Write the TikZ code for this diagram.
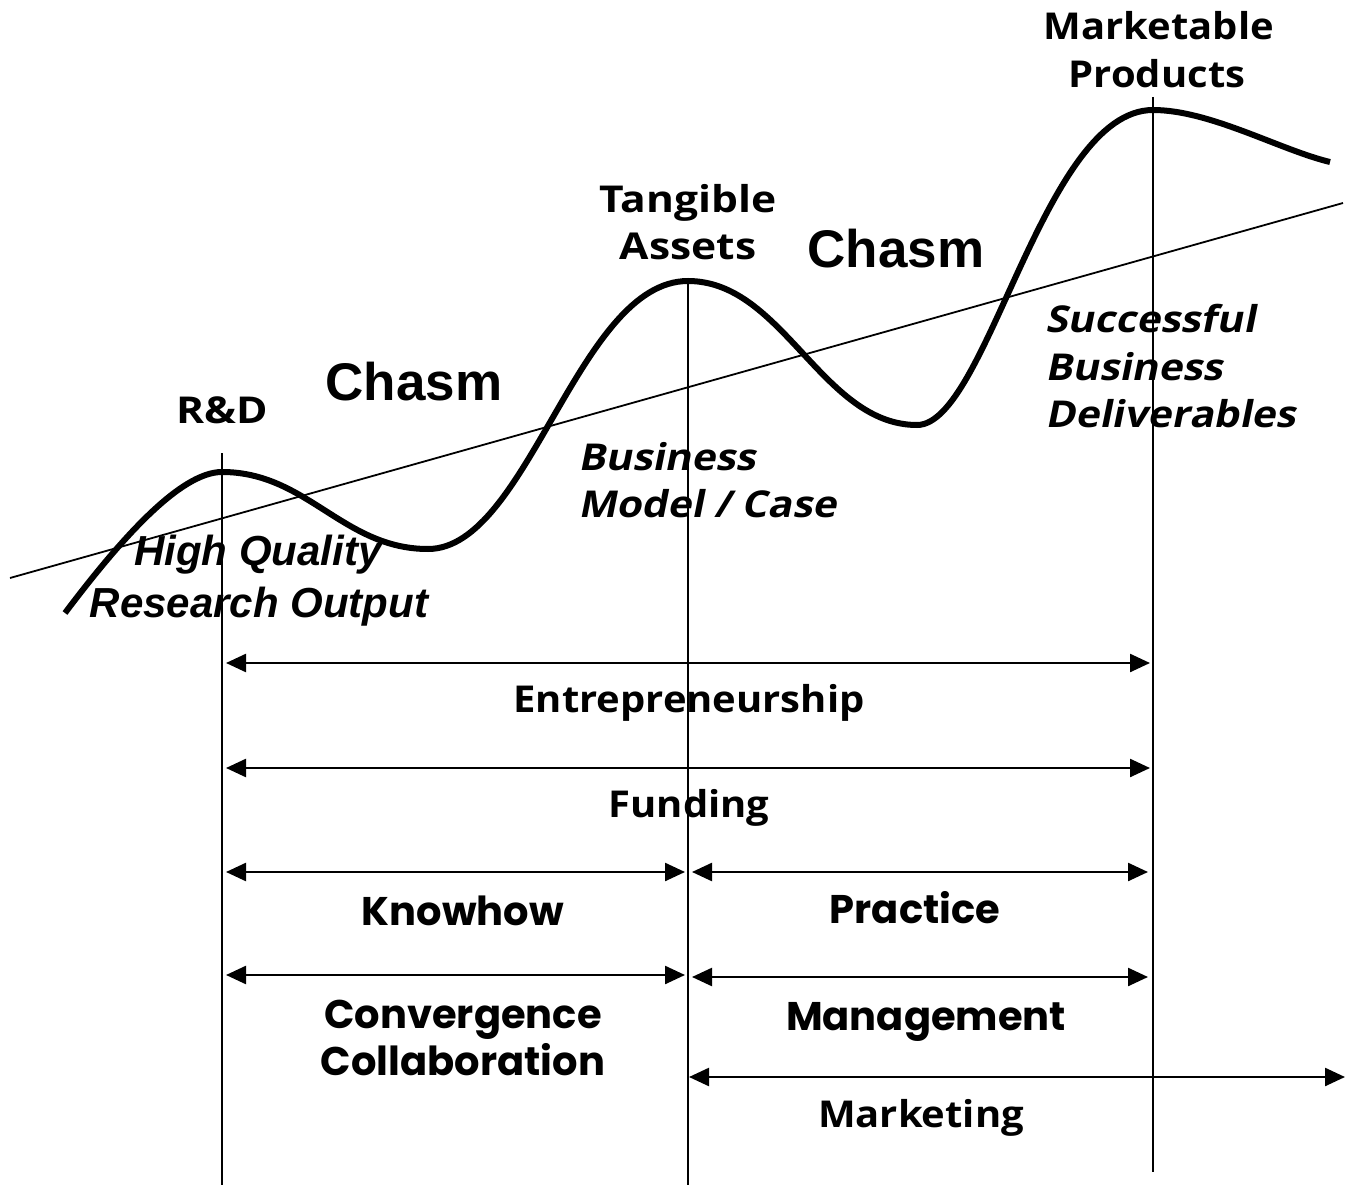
\documentclass[tikz,border=0pt]{standalone}
\usepackage{fontspec}
\usetikzlibrary{arrows.meta}
\newfontfamily\labelfont[FakeStretch=1.08]{Open Sans}
\newfontfamily\labelwidefont[FakeStretch=1.15]{Open Sans}
\newfontfamily\obliquefont[FakeStretch=1.1,FakeSlant=0.2]{Open Sans}
\newfontfamily\arialfont{Liberation Sans}
\newfontfamily\gothicfont{Poppins}
\begin{document}
\begin{tikzpicture}[x=1pt,y=-1pt,
  wave/.style={line width=6pt},
  trend/.style={line width=1.8pt},
  guide/.style={line width=2.2pt},
  span/.style={line width=2.4pt,
    {Triangle[length=20pt,width=18pt]}-{Triangle[length=20pt,width=18pt]}},
  txt/.style={inner sep=0pt, anchor=base},
  stage/.style={txt, font=\labelfont\bfseries\fontsize{37}{37}\selectfont},
  stagewide/.style={txt, font=\labelwidefont\bfseries\fontsize{37}{37}\selectfont},
  stageit/.style={txt, anchor=base west, font=\obliquefont\bfseries\fontsize{37}{37}\selectfont},
  chasm/.style={txt, font=\arialfont\bfseries\fontsize{53}{53}\selectfont},
  outcome/.style={txt, font=\arialfont\bfseries\itshape\fontsize{42}{42}\selectfont},
  skill/.style={txt, font=\gothicfont\bfseries\fontsize{40}{40}\selectfont},
]
\useasboundingbox (0,0) rectangle (1345,1185);

% rising trend line
\coordinate (t0) at (10,578);
\coordinate (t1) at (1343,203);
\draw[trend] (t0) -- (t1);

% the wave of stages and chasms, peak to trough
\draw[wave] (65,613)
  .. controls (120,540) and (180,472) .. (222,472)
  .. controls (307,472) and (343,549) .. (428,549)
  .. controls (528,549) and (578,281) .. (688,281)
  .. controls (783,281) and (822,425) .. (917,425)
  .. controls (987,425) and (1043,110) .. (1153,110)
  .. controls (1210,110) and (1280,150) .. (1330,162);

% stage markers
\coordinate (v1a) at (222,453);  \coordinate (v1b) at (222,1185);
\coordinate (v2a) at (688,278);  \coordinate (v2b) at (688,1185);
\coordinate (v3a) at (1153,97);  \coordinate (v3b) at (1153,1172);
\draw[guide] (v1a) -- (v1b);
\draw[guide] (v2a) -- (v2b);
\draw[guide] (v3a) -- (v3b);

% spans
\coordinate (e0) at (226,663); \coordinate (e1) at (1150,663);
\coordinate (f0) at (226,768); \coordinate (f1) at (1150,768);
\coordinate (k0) at (226,872); \coordinate (k1) at (685,872);
\coordinate (p0) at (692,872); \coordinate (p1) at (1148,872);
\coordinate (c0) at (226,975); \coordinate (c1) at (685,975);
\coordinate (m0) at (692,977); \coordinate (m1) at (1148,977);
\coordinate (g0) at (689,1077); \coordinate (g1) at (1345,1077);
\draw[span] (e0) -- (e1);
\draw[span] (f0) -- (f1);
\draw[span] (k0) -- (k1);
\draw[span] (p0) -- (p1);
\draw[span] (c0) -- (c1);
\draw[span] (m0) -- (m1);
\draw[span] (g0) -- (g1);

% stage labels
\node[stagewide] (rd) at (222,423) {R\&D};
\node[stagewide] (tang1) at (688,213) {Tangible};
\node[stagewide] (tang2) at (688,260) {Assets};
\node[stage] (mkt1) at (1159,40) {Marketable};
\node[stage] (mkt2) at (1157,88) {Products};

% chasms
\node[chasm] (ch1) at (414,400) {Chasm};
\node[chasm] (ch2) at (896,268) {Chasm};

% outcomes
\node[outcome] (hq1) at (258,565) {High Quality};
\node[outcome] (hq2) at (259,617) {Research Output};
\node[stageit] (bm1) at (578,470) {Business};
\node[stageit] (bm2) at (578,517) {Model / Case};
\node[stageit] (sb1) at (1045,333) {Successful};
\node[stageit] (sb2) at (1045,380) {Business};
\node[stageit] (sb3) at (1045,427) {Deliverables};

% span labels
\node[stage] (ent) at (689,712) {Entrepreneurship};
\node[stage] (fund) at (689,817) {Funding};
\node[skill] (know) at (463,925) {Knowhow};
\node[skill] (prac) at (915,923) {Practice};
\node[skill] (conv1) at (463,1028) {Convergence};
\node[skill] (conv2) at (463,1075) {Collaboration};
\node[skill] (mgmt) at (926,1030) {Management};
\node[stage] (mktg) at (921,1127) {Marketing};
\end{tikzpicture}
\end{document}
